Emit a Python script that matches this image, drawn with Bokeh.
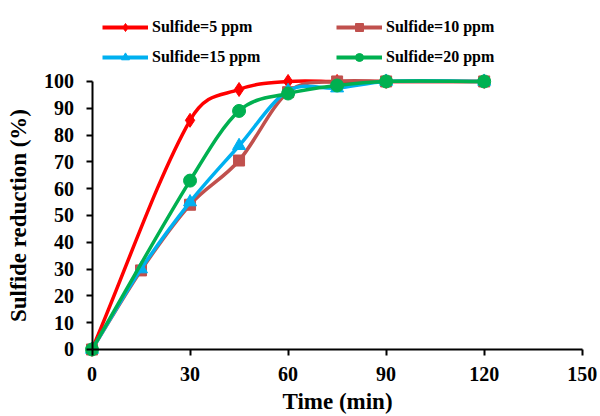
from bokeh.plotting import figure
from bokeh.models import (Range1d, LinearAxis, FixedTicker, Legend, LegendItem,
                          ColumnDataSource)
from bokeh.embed import file_html
from bokeh.resources import INLINE

# ---- data ----
time_5 = [0, 30, 45, 60, 75, 90, 120]
red_5 = [0, 85.5, 97, 100, 100, 100, 100]
time_10 = [0, 15, 30, 45, 60, 75, 90, 120]
red_10 = [0, 29.5, 54, 70.5, 96, 100, 100, 100]
time_15 = [0, 15, 30, 45, 60, 75, 90, 120]
red_15 = [0, 30, 55, 76, 96.5, 97.5, 100, 100]
time_20 = [0, 30, 45, 60, 75, 90, 120]
red_20 = [0, 63, 89, 95.5, 98.5, 100, 100]

labels = ["Sulfide=5 ppm", "Sulfide=10 ppm", "Sulfide=15 ppm", "Sulfide=20 ppm"]
colors = ["#FF0000", "#C0504D", "#00B0F0", "#00B050"]
markers = ["diamond", "square", "triangle", "circle"]
msizes = [14, 11, 13, 13]
x_ticks = [0, 30, 60, 90, 120, 150]
y_ticks = [0, 10, 20, 30, 40, 50, 60, 70, 80, 90, 100]

FONT = "Liberation Serif"


def smooth(xs, ys):
    # smoothed line: cubic Bezier segments, tangents from neighbouring points (by x spacing)
    n = len(xs)
    slopes = []
    for i in range(n):
        a = max(i - 1, 0)
        b = min(i + 1, n - 1)
        slopes.append((ys[b] - ys[a]) / (xs[b] - xs[a]))
    x0, y0, x1, y1, cx0, cy0, cx1, cy1 = [], [], [], [], [], [], [], []
    for i in range(n - 1):
        h = (xs[i + 1] - xs[i]) / 3.0
        x0.append(xs[i]); y0.append(ys[i])
        x1.append(xs[i + 1]); y1.append(ys[i + 1])
        cx0.append(xs[i] + h); cy0.append(ys[i] + slopes[i] * h)
        cx1.append(xs[i + 1] - h); cy1.append(ys[i + 1] - slopes[i + 1] * h)
    return dict(x0=x0, y0=y0, x1=x1, y1=y1, cx0=cx0, cy0=cy0, cx1=cx1, cy1=cy1)


# frame covers the whole canvas; axes are pinned at x=0 / y=0
p = figure(width=600, height=416, output_backend="svg", toolbar_location=None,
           x_range=Range1d(-28.0, 155.6), y_range=Range1d(-25.0, 130.2),
           x_axis_type=None, y_axis_type=None,
           min_border_left=0, min_border_right=0, min_border_top=0,
           min_border_bottom=0)
p.outline_line_color = None
p.xgrid.visible = False
p.ygrid.visible = False

series = [(time_5, red_5), (time_10, red_10), (time_15, red_15), (time_20, red_20)]
items1, items2 = [], []
for k, (xs, ys) in enumerate(series):
    src = ColumnDataSource(smooth(xs, ys))
    p.bezier(x0="x0", y0="y0", x1="x1", y1="y1", cx0="cx0", cy0="cy0",
             cx1="cx1", cy1="cy1", source=src, line_color=colors[k], line_width=3.5)
    sc = p.scatter(xs, ys, marker=markers[k], size=msizes[k], fill_color=colors[k],
                   line_color=colors[k])
    lg_line = p.line([xs[0]], [ys[0]], line_color=colors[k], line_width=4)
    item = LegendItem(label=labels[k], renderers=[lg_line, sc])
    (items1 if k % 2 == 0 else items2).append(item)

xaxis = LinearAxis(fixed_location=0, bounds=(0, 150),
                   ticker=FixedTicker(ticks=x_ticks), axis_label="Time (min)")
yaxis = LinearAxis(fixed_location=0, bounds=(0, 100),
                   ticker=FixedTicker(ticks=y_ticks), axis_label="Sulfide reduction (%)")
for ax in (xaxis, yaxis):
    ax.axis_line_width = 2
    ax.axis_line_color = "black"
    ax.major_tick_line_width = 2
    ax.major_tick_line_color = "black"
    ax.major_tick_out = 6
    ax.major_tick_in = 0
    ax.minor_tick_line_color = None
    ax.major_label_text_font = FONT
    ax.major_label_text_font_style = "bold"
    ax.major_label_text_font_size = "20px"
    ax.major_label_text_color = "black"
    ax.axis_label_text_font = FONT
    ax.axis_label_text_font_style = "bold"
    ax.axis_label_text_font_size = "23px"
    ax.axis_label_text_color = "black"
xaxis.major_label_standoff = 12
xaxis.axis_label_standoff = 4
yaxis.major_label_standoff = 12
yaxis.axis_label_standoff = 11
p.add_layout(xaxis, "below")
p.add_layout(yaxis, "left")

for items, loc in ((items1, (102, 349)), (items2, (336, 349))):
    lg = Legend(items=items, location=loc, orientation="vertical")
    lg.glyph_width = 46
    lg.glyph_height = 20
    lg.label_standoff = 4
    lg.spacing = 10
    lg.padding = 0
    lg.margin = 0
    lg.border_line_color = None
    lg.background_fill_alpha = 0
    lg.label_text_font = FONT
    lg.label_text_font_style = "bold"
    lg.label_text_font_size = "16px"
    lg.label_text_color = "black"
    lg.label_height = 20
    p.add_layout(lg, "center")

open("out.html", "w").write(file_html(p, INLINE))
